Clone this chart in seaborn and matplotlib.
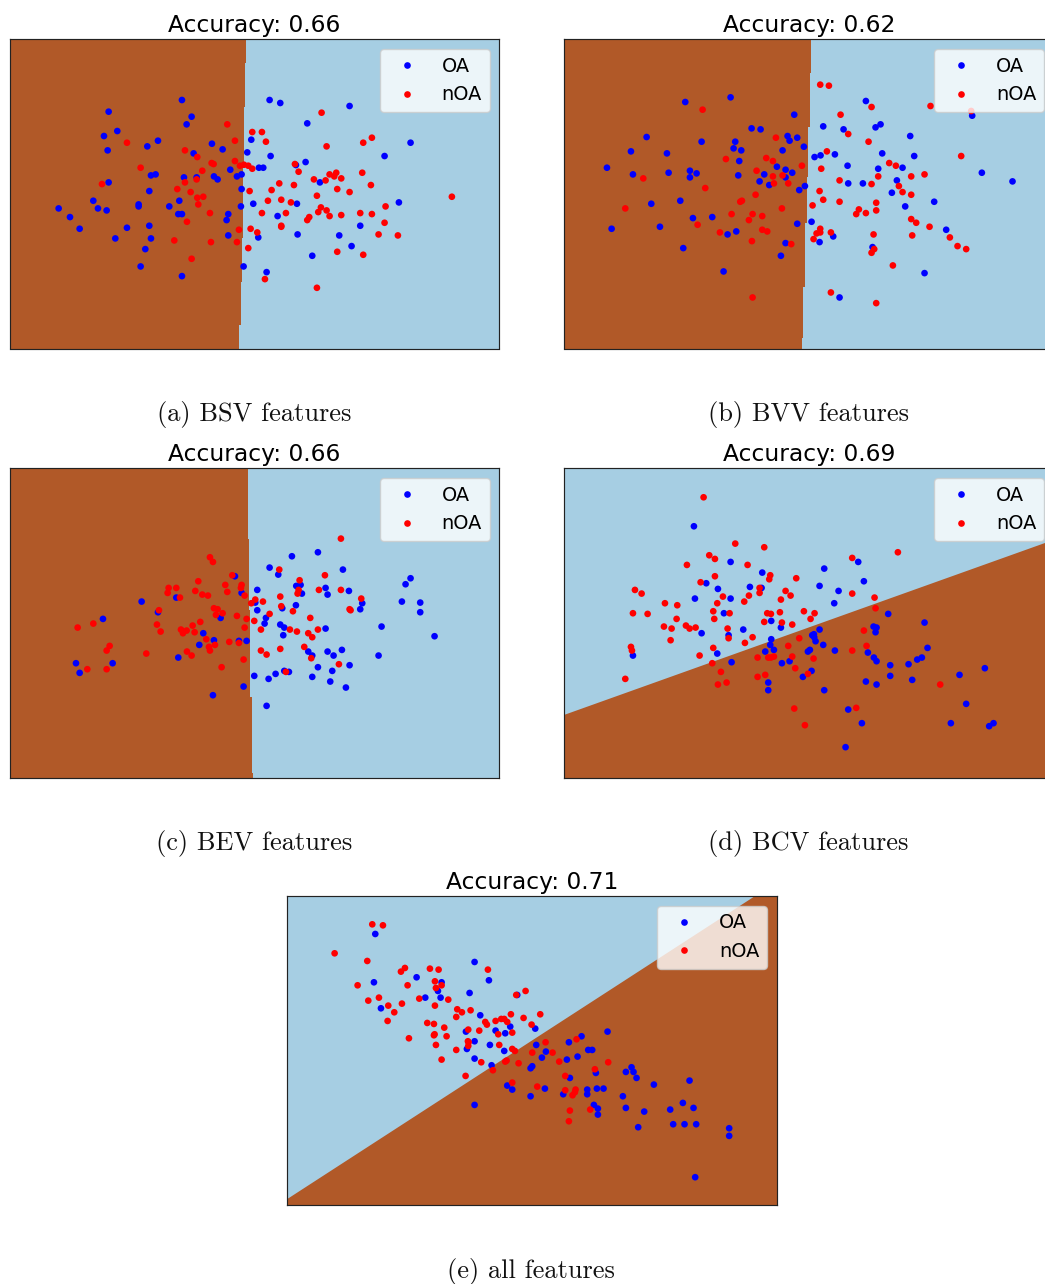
import pandas as pd
import seaborn as sns
import matplotlib.pyplot as plt

# values, in picture units (y grows downwards)
a_oa = [(546,270),(809,270),(841,279),(1049,288),(326,305),(575,320),(560,343),(922,340),(352,363),(312,378),(754,389),(474,392),(442,409),(636,401),(668,418),(323,421),(581,430),(742,427),(812,438),(1154,438),(1232,398),(917,456),(888,465),(777,473),(790,473),(691,479),(725,493),(711,499),(453,496),(467,493),(552,502),(590,502),(642,499),(653,508),(326,517),(960,517),(448,543),(725,537),(280,572),(538,572),(416,583),(416,589),(508,589),(176,595),(294,595),(320,601),(723,589),(760,581),(891,581),(1197,577),(535,612),(546,612),(685,612),(833,618),(210,621),(680,630),(448,647),(381,653),(239,656),(1081,647),(685,676),(893,673),(1018,676),(775,682),(346,685),(453,685),(436,717),(1055,708),(937,737),(422,769),(731,769),(800,786),(546,798)]
a_noa = [(965,308),(682,343),(757,366),(786,366),(1116,383),(381,398),(705,392),(798,395),(1090,398),(980,409),(555,421),(592,441),(705,453),(635,459),(641,462),(720,467),(732,464),(745,467),(757,476),(885,462),(422,473),(607,482),(896,485),(989,493),(1009,488),(1003,499),(1024,505),(1087,488),(942,508),(977,511),(590,508),(555,517),(306,522),(838,520),(882,525),(1113,525),(532,537),(572,546),(749,543),(815,540),(1012,537),(1049,546),(951,557),(592,563),(610,560),(804,572),(844,569),(873,577),(1356,560),(595,583),(1157,589),(963,592),(980,601),(955,606),(630,609),(786,609),(858,609),(1081,609),(1116,612),(989,618),(1024,615),(928,621),(922,630),(561,635),(1154,638),(844,647),(844,650),(717,659),(752,656),(772,667),(1136,673),(1194,676),(523,691),(633,696),(711,696),(745,714),(1012,725),(1090,734),(575,746),(795,807),(951,833)]

b_oa = [(527,262),(391,276),(933,273),(1252,317),(718,314),(805,349),(590,355),(617,358),(866,358),(962,352),(977,343),(275,381),(698,378),(727,383),(704,392),(1066,378),(440,395),(541,395),(747,410),(536,415),(559,421),(683,421),(228,424),(336,430),(779,441),(797,436),(840,433),(982,430),(1078,438),(553,453),(156,473),(666,470),(878,467),(970,476),(1043,473),(692,479),(405,482),(341,488),(425,490),(234,493),(550,496),(628,493),(712,488),(1281,488),(405,502),(692,502),(614,514),(1026,511),(1373,514),(643,525),(880,520),(924,520),(750,528),(733,540),(1011,548),(376,572),(289,581),(1138,575),(1051,589),(414,624),(472,621),(727,641),(770,635),(315,650),(170,656),(544,664),(518,673),(1174,659),(835,679),(794,696),(692,699),(385,714),(953,711),(678,737),(506,784),(1109,789),(854,862)]
b_noa = [(796,224),(822,227),(1127,288),(950,291),(443,299),(1249,303),(857,314),(880,372),(663,383),(941,395),(816,424),(634,444),(513,447),(654,453),(1219,438),(1003,459),(1023,467),(741,467),(799,476),(605,482),(654,499),(683,496),(970,499),(1069,499),(1109,493),(265,505),(854,511),(657,520),(700,520),(950,522),(1032,528),(451,534),(794,543),(1043,546),(602,554),(1069,554),(805,569),(556,575),(561,572),(854,575),(964,578),(773,586),(211,595),(681,595),(912,598),(964,601),(530,612),(593,612),(904,612),(933,609),(622,618),(582,630),(1069,627),(1084,638),(428,644),(1124,650),(796,656),(622,659),(637,664),(495,667),(785,670),(796,667),(828,667),(956,673),(1072,676),(776,687),(1185,682),(591,693),(709,702),(1208,708),(1234,717),(958,717),(950,728),(1014,766),(828,847),(593,862),(964,879)]

c_oa = [(954,337),(876,349),(809,383),(1029,389),(835,404),(705,409),(1232,415),(1217,433),(889,438),(902,435),(977,444),(772,450),(1047,453),(725,459),(906,461),(983,464),(529,473),(425,485),(766,488),(1206,485),(1261,488),(1087,490),(888,496),(847,505),(1081,508),(772,511),(474,517),(1261,517),(662,534),(798,534),(309,537),(794,551),(841,554),(853,563),(1145,560),(977,566),(610,580),(850,586),(1304,589),(642,601),(717,603),(740,603),(598,615),(925,635),(983,635),(1026,630),(937,647),(1001,647),(1136,647),(535,653),(338,670),(228,670),(1049,676),(954,682),(853,693),(867,696),(997,693),(239,699),(827,702),(763,708),(937,711),(806,717),(991,725),(731,740),(1038,743),(639,766),(800,798)]
c_noa = [(1023,296),(630,352),(639,366),(838,389),(697,406),(975,406),(899,421),(595,424),(676,435),(725,435),(506,444),(529,444),(723,444),(896,450),(586,453),(957,450),(1023,450),(503,459),(682,456),(607,464),(624,467),(893,461),(734,467),(540,473),(841,470),(1084,476),(766,479),(789,485),(754,490),(844,499),(642,505),(653,508),(477,511),(1049,508),(1052,511),(879,514),(668,520),(648,525),(809,522),(711,528),(931,534),(740,537),(763,543),(601,546),(471,554),(280,551),(578,557),(233,563),(734,563),(543,569),(560,572),(783,569),(870,569),(954,569),(482,575),(549,580),(584,577),(891,575),(925,580),(937,592),(619,598),(688,606),(717,609),(645,615),(329,618),(627,621),(913,621),(320,632),(630,632),(841,627),(783,632),(561,635),(439,641),(575,647),(800,644),(934,655),(731,659),(1017,673),(665,682),(262,688),(320,688),(858,696)]

d_oa = [(417,259),(527,366),(910,366),(808,386),(622,398),(454,430),(927,424),(489,447),(585,441),(620,444),(794,438),(851,453),(420,476),(527,476),(838,490),(507,520),(1000,522),(649,543),(678,563),(1109,548),(565,569),(794,569),(956,560),(965,563),(440,580),(521,586),(772,586),(777,583),(962,577),(778,592),(649,598),(782,604),(646,615),(805,615),(1118,624),(657,630),(631,635),(765,630),(759,635),(840,632),(939,638),(487,641),(234,647),(957,653),(1101,653),(1087,659),(965,664),(530,667),(681,670),(704,664),(1006,676),(1061,673),(1290,685),(770,693),(1214,705),(1006,708),(744,711),(1072,720),(933,725),(965,734),(640,728),(640,751),(808,751),(1234,792),(880,809),(921,850),(1188,850),(1316,850),(1303,859),(872,922)]
d_noa = [(446,172),(541,311),(628,322),(1029,337),(463,346),(480,357),(892,354),(396,375),(578,375),(646,406),(643,418),(480,409),(724,415),(437,427),(240,450),(260,461),(614,444),(614,459),(692,453),(892,461),(707,467),(504,470),(582,467),(959,473),(678,479),(330,490),(367,496),(568,485),(487,490),(962,505),(234,520),(278,522),(475,514),(524,520),(637,520),(648,522),(675,517),(747,514),(779,520),(365,537),(478,537),(767,537),(628,546),(681,548),(712,554),(327,560),(393,557),(404,566),(422,563),(350,566),(518,566),(927,572),(733,595),(521,595),(593,592),(347,601),(570,609),(700,618),(228,621),(475,624),(231,632),(935,618),(892,632),(434,647),(712,650),(608,653),(640,653),(657,650),(648,653),(776,656),(472,670),(721,685),(498,696),(631,705),(608,711),(759,702),(211,717),(515,728),(489,734),(1156,734),(904,804),(718,806),(750,856)]

e_oa = [(286,192),(584,276),(627,331),(410,322),(282,337),(485,337),(474,363),(569,369),(436,383),(482,383),(712,375),(303,415),(601,436),(691,470),(766,476),(647,482),(558,485),(676,490),(983,485),(905,499),(584,514),(867,517),(769,525),(630,525),(561,537),(673,543),(798,545),(925,540),(937,540),(786,563),(893,560),(584,566),(861,569),(635,586),(752,595),(757,589),(1055,592),(1038,606),(1061,606),(948,609),(870,624),(1070,624),(1229,632),(1122,644),(682,647),(697,659),(795,656),(922,659),(951,656),(971,656),(922,673),(850,673),(752,679),(1029,679),(1209,699),(584,705),(942,705),(1038,714),(954,716),(1241,714),(1171,719),(1093,725),(954,734),(1180,763),(1214,763),(1249,763),(1075,772),(1348,775),(1348,798),(1246,922)]
e_noa = [(277,163),(309,166),(164,250),(262,273),(624,299),(375,294),(363,305),(450,296),(476,299),(465,334),(233,346),(383,346),(485,346),(468,354),(737,363),(709,375),(297,383),(265,392),(418,386),(505,389),(366,401),(325,407),(465,407),(532,418),(546,427),(572,421),(343,427),(529,441),(693,433),(731,444),(781,433),(323,453),(442,459),(462,462),(616,456),(621,464),(647,453),(664,447),(673,447),(682,456),(755,464),(493,473),(565,479),(598,482),(697,488),(462,496),(464,493),(655,493),(500,499),(387,505),(564,514),(566,517),(468,525),(565,528),(658,525),(797,517),(890,508),(529,540),(697,537),(705,543),(757,548),(818,548),(485,569),(676,575),(680,572),(604,577),(716,580),(838,575),(985,577),(639,601),(945,598),(557,618),(856,618),(697,638),(772,650),(856,661),(887,659),(885,667),(878,676),(870,722),(931,719),(867,754)]

# decision boundaries, as (y, x) for the upright ones and (x, y) for the slanted ones
a_edge = [(0,738),(158,735),(290,732),(460,729),(685,726),(815,722),(945,718),(1100,718)]
b_edge = [(0,769),(190,766),(350,760),(500,755),(640,750),(830,745),(985,741),(1100,741)]
c_edge = [(0,744),(297,747),(510,750),(770,755),(1000,758),(1100,758)]
d_edge = [(28,823),(1496,298)]
e_edge = [(22,985),(1422,78),(1490,78)]

accuracies = ['0.66', '0.62', '0.66', '0.69', '0.71']
captions = ['(a) BSV features', '(b) BVV features', '(c) BEV features', '(d) BCV features', '(e) all features']

W, H = 1045, 1284
BROWN = '#b15928'
LIGHT_BLUE = '#a6cee3'


def make_panel(left, top, xlim, ylim, oa, noa, acc, caption, edge, upright):
    ax = fig.add_axes([left / W, 1 - (top + 309.2) / H, 489.2 / W, 309.2 / H])
    ax.set_facecolor(LIGHT_BLUE)

    # brown region
    if upright:
        ys, xs = zip(*edge)
        ax.fill_betweenx(ys, 0, xs, step='post', color=BROWN, lw=0)
    else:
        xs, ys = zip(*edge)
        ax.fill_between(xs, ys, ylim[0] + 50, color=BROWN, lw=0)

    df = pd.DataFrame(oa + noa, columns=['x', 'y'])
    df['label'] = ['OA'] * len(oa) + ['nOA'] * len(noa)
    sns.scatterplot(data=df, x='x', y='y', hue='label', palette={'OA': 'blue', 'nOA': 'red'},
                    s=23, linewidth=0, ax=ax, zorder=3)

    ax.set_xlim(xlim)
    ax.set_ylim(ylim)
    ax.set_xticks([])
    ax.set_yticks([])
    ax.set_xlabel('')
    ax.set_ylabel('')
    for s in ax.spines.values():
        s.set_linewidth(0.85)
        s.set_color('#222222')
    ax.set_title('Accuracy: ' + acc, fontsize=16.85, pad=5)
    ax.legend(loc='upper right', fontsize=13.9, title=None)

    fig.text((left + 243.7) / W, 1 - (top + 375.5) / H, caption, ha='center', va='center',
             fontsize=19, family=['cmr10', 'Liberation Serif'], color='#111111')


fig = plt.figure(figsize=(W / 100, H / 100), dpi=100)

make_panel(10, 39.3, (30, 1498), (1015, 88), a_oa, a_noa, accuracies[0], captions[0], a_edge, True)
make_panel(564.3, 39.3, (28, 1496), (1015, 88), b_oa, b_noa, accuracies[1], captions[1], b_edge, True)
make_panel(10, 468.3, (30, 1498), (1013, 85), c_oa, c_noa, accuracies[2], captions[2], c_edge, True)
make_panel(564.3, 468.3, (28, 1496), (1013, 85), d_oa, d_noa, accuracies[3], captions[3], d_edge, False)
make_panel(287.3, 896, (22, 1490), (1006, 78), e_oa, e_noa, accuracies[4], captions[4], e_edge, False)

fig.savefig('out.png', dpi=100)
